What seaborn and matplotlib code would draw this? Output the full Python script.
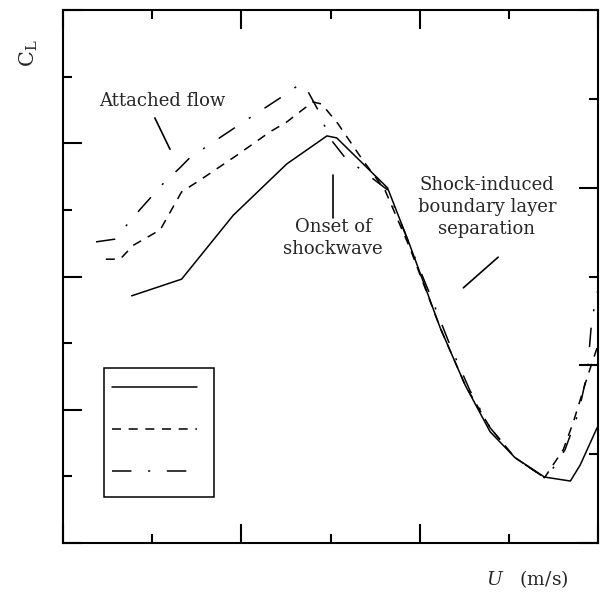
import matplotlib
matplotlib.use("Agg")
import matplotlib.pyplot as plt
from matplotlib.lines import Line2D
import seaborn as sns
import pandas as pd

# ---- data (axes units, x 0..6, y 0..8) ----
solid_x = [0.77, 1.33, 1.91, 2.51, 2.96, 3.07, 3.64, 3.89, 4.23, 4.51, 4.79, 5.07, 5.40, 5.69, 5.80, 5.99]
solid_y = [3.71, 3.96, 4.92, 5.69, 6.11, 6.08, 5.33, 4.47, 3.23, 2.37, 1.67, 1.28, 0.99, 0.93, 1.17, 1.73]

dashed_x = [0.48, 0.64, 0.79, 1.09, 1.33, 1.54, 1.95, 2.32, 2.51, 2.80, 2.90, 3.08, 3.36, 3.61, 3.89, 4.23,
            4.51, 4.79, 5.07, 5.40, 5.61, 5.72, 5.88, 6.00]
dashed_y = [4.26, 4.26, 4.47, 4.70, 5.27, 5.45, 5.82, 6.17, 6.32, 6.62, 6.59, 6.30, 5.75, 5.30, 4.43, 3.23,
            2.37, 1.73, 1.28, 0.98, 1.40, 1.80, 2.49, 2.97]

dashdot_x = [0.37, 0.58, 0.86, 1.14, 1.31, 1.42, 1.99, 2.47, 2.66, 2.75, 2.86, 2.99, 3.16, 3.64, 3.89, 4.14,
             4.34, 4.56, 4.79, 5.07, 5.40, 5.50, 5.63, 5.78, 5.88, 5.93, 6.00]
dashdot_y = [4.52, 4.56, 5.00, 5.42, 5.63, 5.78, 6.29, 6.71, 6.89, 6.77, 6.50, 6.08, 5.79, 5.30, 4.47, 3.65,
             2.97, 2.30, 1.73, 1.28, 0.98, 1.13, 1.40, 1.95, 2.55, 3.35, 3.80]

x_major = [0, 2, 4, 6]
x_minor = [1, 3, 5]
y_major = [0, 2, 4, 6, 8]
y_minor = [1, 3, 5, 7]
yr_major = [0, 2, 4, 6]
yr_minor = [1, 3, 5]

ylabel_text = r"$\mathrm{C}_\mathrm{L}$"
xlabel_text = r"$U$   (m/s)"
note_attached = "Attached flow"
note_onset = "Onset of\nshockwave"
note_sep = "Shock-induced\nboundary layer\nseparation"

# ---- style ----
sns.set_style("white")
plt.rcParams["font.family"] = ["DejaVu Serif", "DejaVu Sans"]
plt.rcParams["mathtext.fontset"] = "dejavuserif"
plt.rcParams["lines.scale_dashes"] = False

DASHED = (0, (6.5, 5.5))
DASHDOT = (0, (14, 12, 1.5, 12))
LW = 1.1

fig = plt.figure(figsize=(6.04, 5.96), dpi=100)
ax = fig.add_axes([63 / 604, 53 / 596, 535 / 604, 533 / 596])

df_s = pd.DataFrame({"x": solid_x, "y": solid_y})
df_d = pd.DataFrame({"x": dashed_x, "y": dashed_y})
df_dd = pd.DataFrame({"x": dashdot_x, "y": dashdot_y})

sns.lineplot(data=df_s, x="x", y="y", ax=ax, color="black", lw=LW, sort=False, estimator=None)
sns.lineplot(data=df_d, x="x", y="y", ax=ax, color="black", lw=LW, sort=False, estimator=None,
             linestyle=DASHED)
sns.lineplot(data=df_dd, x="x", y="y", ax=ax, color="black", lw=LW, sort=False, estimator=None,
             linestyle=DASHDOT)

ax.set_xlim(0, 6)
ax.set_ylim(0, 8)
ax.set_xlabel("")
ax.set_ylabel("")

ax.xaxis.set_major_locator(plt.FixedLocator(x_major))
ax.xaxis.set_minor_locator(plt.FixedLocator(x_minor))
ax.yaxis.set_major_locator(plt.FixedLocator(y_major))
ax.yaxis.set_minor_locator(plt.FixedLocator(y_minor))
ax.tick_params(which="both", direction="in", top=True, bottom=True, left=True, right=False,
               labelbottom=False, labelleft=False, color="black", width=1.5)
ax.tick_params(which="major", length=13.5)
ax.tick_params(which="minor", length=6.5)
for s in ax.spines.values():
    s.set_visible(True)
    s.set_color("black")
    s.set_linewidth(1.5)

ax2 = ax.twinx()
ax2.set_ylim(0, 6)
ax2.yaxis.set_major_locator(plt.FixedLocator(yr_major))
ax2.yaxis.set_minor_locator(plt.FixedLocator(yr_minor))
ax2.tick_params(which="both", direction="in", right=True, labelright=False, color="black", width=1.5)
ax2.tick_params(which="major", length=13.5)
ax2.tick_params(which="minor", length=6.5)
ax2.grid(False)
for s in ax2.spines.values():
    s.set_visible(False)

# legend (no labels, as in the reference)
handles = [Line2D([], [], color="black", lw=LW),
           Line2D([], [], color="black", lw=LW, linestyle=DASHED),
           Line2D([], [], color="black", lw=LW, linestyle=DASHDOT)]
leg = ax.legend(handles, ["", "", ""], loc="lower left", bbox_to_anchor=(0.077, 0.086),
                borderaxespad=0, frameon=True, fancybox=False, edgecolor="black",
                fontsize=18, handlelength=3.4, handleheight=1.48, handletextpad=0.36,
                borderpad=0.32, labelspacing=0.46)
leg.get_frame().set_linewidth(1.1)
leg.get_frame().set_alpha(1)

# annotations
tfs = 13
ax.text(1.11, 6.63, note_attached, ha="center", va="center", fontsize=tfs)
ax.plot([1.03, 1.20], [6.38, 5.91], color="black", lw=1.2)
ax.text(3.03, 4.58, note_onset, ha="center", va="center", fontsize=tfs, linespacing=1.33)
ax.plot([3.03, 3.03], [4.88, 5.52], color="black", lw=1.2)
ax.text(4.755, 5.04, note_sep, ha="center", va="center", fontsize=tfs, linespacing=1.28)
ax.plot([4.49, 4.88], [3.83, 4.29], color="black", lw=1.2)

fig.text(29 / 604, 1 - 53 / 596, ylabel_text, rotation=90, ha="center", va="center", fontsize=15)
fig.text(527 / 604, 1 - 579 / 596, xlabel_text, ha="center", va="center", fontsize=13.5)

fig.savefig("out.png", dpi=100)
